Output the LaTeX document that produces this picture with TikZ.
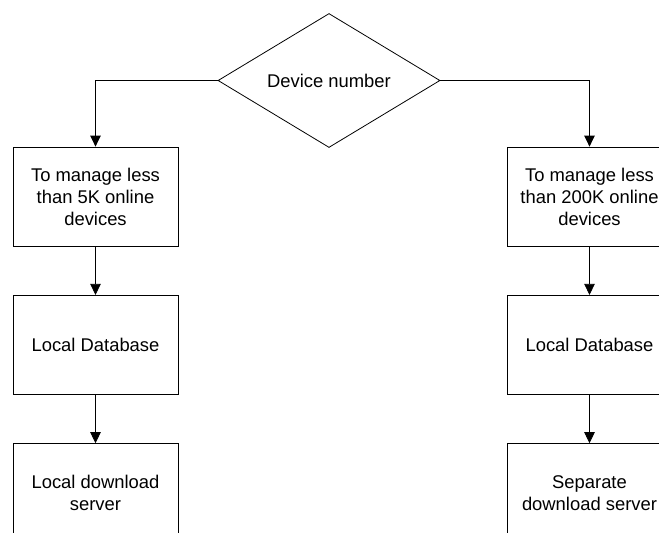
\documentclass[tikz,border=0pt]{standalone}
\usepackage{fontspec}
\setmainfont{Liberation Sans}
\usetikzlibrary{shapes.geometric,positioning,arrows.meta}
\begin{document}
\begin{tikzpicture}[x=1pt, y=-1pt, line join=miter, >={Triangle[length=11pt,width=10.5pt]}, font=\fontsize{18.4}{22}\selectfont,
		box/.style={draw, line width=0.8pt, minimum width=165pt, minimum height=99pt, align=center, inner sep=0pt},
		decision/.style={draw, diamond, aspect=1.66, minimum width=222pt, minimum height=134pt, inner sep=0pt, line width=0.8pt},
		node distance=48.5pt]
			\useasboundingbox (0,0) rectangle (659,533);
			\clip (0,0) rectangle (659,533);
			%
			\node [decision] (dev) at (329,80.5) {Device number};
			% left column
			\node [box] (lmg) at (95.5,196.5) {To manage less\\than 5K online\\devices};
			\node [box, below=of lmg] (ldb) {Local Database};
			\node [box, below=of ldb] (lsrv) {Local download\\server};
			% right column
			\node [box] (rmg) at (589.5,196.5) {To manage less\\than 200K online\\devices};
			\node [box, below=of rmg] (rdb) {Local Database};
			\node [box, below=of rdb] (rsrv) {Separate\\download server};
			%
			\draw [->, line width=0.8pt] (dev.west) -| (lmg.north);
			\draw [->, line width=0.8pt] (dev.east) -| (rmg.north);
			\draw [->, line width=0.8pt] (lmg) -- (ldb);
			\draw [->, line width=0.8pt] (ldb) -- (lsrv);
			\draw [->, line width=0.8pt] (rmg) -- (rdb);
			\draw [->, line width=0.8pt] (rdb) -- (rsrv);
	\end{tikzpicture}
\end{document}
